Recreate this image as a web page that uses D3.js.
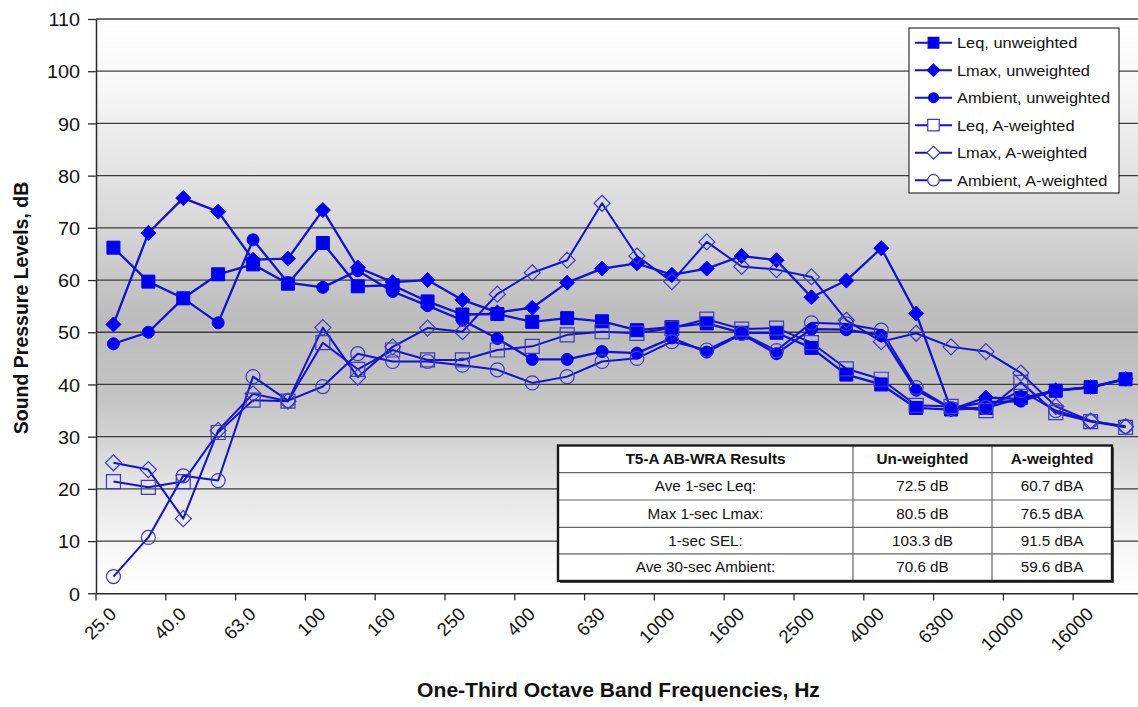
<!DOCTYPE html>
<html>
<head>
<meta charset="utf-8">
<script src="https://cdn.jsdelivr.net/npm/d3@7"></script>
<style>
  body { margin: 0; background: #fff; }
  svg { display: block; font-family: "Liberation Sans", Arial, sans-serif; }
</style>
</head>
<body>
<svg id="chart" width="1138" height="707"></svg>
<script>
// One-third octave band centre frequencies (Hz)
const freqs = ["25.0", "31.5", "40.0", "50.0", "63.0", "80.0", "100", "125", "160", "200",
  "250", "315", "400", "500", "630", "800", "1000", "1250", "1600", "2000",
  "2500", "3150", "4000", "5000", "6300", "8000", "10000", "12500", "16000", "20000"];

// Band levels, dB
const leqUnweighted = [66.2, 59.7, 56.5, 61.1, 63.0, 59.3, 67.1, 58.8, 59.0, 55.9,
  53.4, 53.5, 52.0, 52.7, 52.1, 50.4, 51.0, 51.7, 49.9, 49.9,
  47.0, 41.9, 40.0, 35.5, 35.2, 35.5, 37.4, 38.8, 39.5, 41.0];
const lmaxUnweighted = [51.5, 69.0, 75.7, 73.1, 63.9, 64.1, 73.4, 62.4, 59.6, 60.0,
  56.2, 53.8, 54.7, 59.5, 62.2, 63.2, 61.0, 62.2, 64.6, 63.8,
  56.7, 59.9, 66.1, 53.6, 35.2, 37.5, 37.2, 38.9, 39.5, 41.1];
const ambientUnweighted = [47.8, 50.0, 56.5, 51.8, 67.7, 59.5, 58.6, 61.8, 57.8, 55.1,
  52.3, 48.8, 44.8, 44.8, 46.3, 46.0, 48.9, 46.2, 49.6, 45.9,
  50.6, 50.5, 49.4, 38.9, 35.4, 36.6, 36.8, 38.8, 39.4, 41.0];
const leqAWeighted = [21.4, 20.3, 21.4, 30.8, 37.0, 36.8, 48.0, 42.9, 46.6, 44.7,
  44.7, 46.6, 47.3, 49.5, 50.1, 49.8, 50.8, 52.5, 50.6, 50.8,
  48.0, 43.0, 41.0, 36.0, 35.8, 35.0, 40.4, 34.6, 32.9, 31.8];
const lmaxAWeighted = [25.0, 23.7, 14.3, 31.2, 38.2, 36.8, 50.9, 41.4, 47.2, 50.8,
  50.1, 57.3, 61.4, 63.8, 74.7, 64.6, 59.7, 67.3, 62.6, 62.0,
  60.6, 52.3, 48.2, 49.8, 47.2, 46.3, 42.2, 35.8, 33.0, 31.9];
const ambientAWeighted = [3.2, 10.7, 22.5, 21.6, 41.5, 36.9, 39.6, 45.9, 44.4, 44.4,
  43.7, 42.8, 40.3, 41.5, 44.4, 45.0, 48.2, 46.6, 49.8, 46.5,
  51.8, 51.6, 50.4, 39.4, 35.4, 35.6, 38.8, 35.0, 33.0, 32.0];

const yTicks = [0, 10, 20, 30, 40, 50, 60, 70, 80, 90, 100, 110];
const xTickLabels = ["25.0", "40.0", "63.0", "100", "160", "250", "400", "630",
  "1000", "1600", "2500", "4000", "6300", "10000", "16000"];

const seriesNames = ["Leq, unweighted", "Lmax, unweighted", "Ambient, unweighted",
  "Leq, A-weighted", "Lmax, A-weighted", "Ambient, A-weighted"];
const seriesValues = [leqUnweighted, lmaxUnweighted, ambientUnweighted,
  leqAWeighted, lmaxAWeighted, ambientAWeighted];

const tableHeader = ["T5-A AB-WRA Results", "Un-weighted", "A-weighted"];
const tableRows = [
  ["Ave 1-sec Leq:", "72.5 dB", "60.7 dBA"],
  ["Max 1-sec Lmax:", "80.5 dB", "76.5 dBA"],
  ["1-sec SEL:", "103.3 dB", "91.5 dBA"],
  ["Ave 30-sec Ambient:", "70.6 dB", "59.6 dBA"]
];

// ---- layout and styles ----
const plot = { left: 96, right: 1143, top: 19, bottom: 593.3 };
const SX = 1.065;                 // horizontal widening applied to horizontal text
const LINE = "#1010d8";
const FILL = "#0000f2";
const OPEN = "#3a3ac4";
const markerStyles = [
  { shape: "square", filled: true, size: 13 },
  { shape: "diamond", filled: true, size: 15 },
  { shape: "circle", filled: true, size: 12 },
  { shape: "square", filled: false, size: 14 },
  { shape: "diamond", filled: false, size: 16 },
  { shape: "circle", filled: false, size: 14 }
];

const svg = d3.select("#chart");
const x = d3.scaleBand().domain(freqs).range([plot.left, plot.right]).padding(0);
const cx = d => x(d) + x.bandwidth() / 2;
const y = d3.scaleLinear().domain([0, 110]).range([plot.bottom, plot.top]);

function markerPath(shape, s) {
  const h = s / 2;
  if (shape === "square") return `M${-h},${-h}h${s}v${s}h${-s}Z`;
  if (shape === "diamond") return `M0,${-h}L${h},0L0,${h}L${-h},0Z`;
  return `M${h},0A${h},${h} 0 1,1 ${-h},0A${h},${h} 0 1,1 ${h},0Z`;
}

// plot-area gradient background
const defs = svg.append("defs");
const grad = defs.append("linearGradient").attr("id", "plotBg")
  .attr("x1", 0).attr("y1", 0).attr("x2", 0).attr("y2", 1);
[[0, "#ffffff"], [0.12, "#f7f7f7"], [0.35, "#d8d8d8"], [0.52, "#bcbcbc"],
 [0.66, "#c4c4c4"], [0.8, "#e2e2e2"], [0.93, "#f8f8f8"], [1, "#ffffff"]]
  .forEach(([o, c]) => grad.append("stop").attr("offset", o).attr("stop-color", c));
svg.append("rect")
  .attr("x", plot.left).attr("y", plot.top)
  .attr("width", plot.right - plot.left).attr("height", plot.bottom - plot.top)
  .attr("fill", "url(#plotBg)");

// horizontal gridlines
svg.append("g").selectAll("line").data(yTicks.filter(t => t > 0)).join("line")
  .attr("x1", plot.left).attr("x2", plot.right)
  .attr("y1", d => y(d)).attr("y2", d => y(d))
  .attr("stroke", "#3c3c3c").attr("stroke-width", 1.3);

// y axis
const yAxis = svg.append("g").attr("transform", `translate(${plot.left},0)`)
  .call(d3.axisLeft(y).tickValues(yTicks).tickSize(8).tickSizeOuter(0));
yAxis.select(".domain").attr("stroke", "#2a2a2a").attr("stroke-width", 1.5);
yAxis.selectAll(".tick line").attr("stroke", "#2a2a2a").attr("stroke-width", 1.3);
yAxis.selectAll(".tick text")
  .attr("x", -16 / SX).attr("dy", "0.36em")
  .attr("transform", `scale(${SX},1)`)
  .style("font-size", "18.6px").style("font-family", "'Liberation Sans', Arial, sans-serif")
  .attr("fill", "#111");

// x axis: baseline, tick marks every second band, rotated labels
const xAxis = svg.append("g").attr("transform", `translate(0,${plot.bottom})`)
  .call(d3.axisBottom(x).tickValues([]).tickSizeOuter(0));
xAxis.select(".domain").attr("stroke", "#2a2a2a").attr("stroke-width", 1.5);
const tickBands = freqs.filter((d, i) => i % 2 === 0);
svg.append("g").selectAll("line").data(tickBands).join("line")
  .attr("x1", d => x(d)).attr("x2", d => x(d))
  .attr("y1", plot.bottom).attr("y2", plot.bottom + 7)
  .attr("stroke", "#2a2a2a").attr("stroke-width", 1.3);
svg.append("g").selectAll("text").data(xTickLabels).join("text")
  .attr("transform", d => `translate(${cx(d) + 4},${plot.bottom + 22}) rotate(-45)`)
  .attr("text-anchor", "end")
  .attr("font-size", 18.5).attr("fill", "#111")
  .text(d => d);

// series lines
const line = d3.line().x((d, i) => cx(freqs[i])).y(d => y(d));
seriesValues.forEach((vals, si) => {
  svg.append("path").datum(vals)
    .attr("d", line)
    .attr("fill", "none")
    .attr("stroke", LINE)
    .attr("stroke-width", si < 3 ? 2.3 : 2)
    .attr("stroke-linejoin", "round");
});

// series markers
seriesValues.forEach((vals, si) => {
  const m = markerStyles[si];
  svg.append("g").selectAll("path").data(vals).join("path")
    .attr("transform", (d, i) => `translate(${cx(freqs[i])},${y(d)})`)
    .attr("d", markerPath(m.shape, m.size))
    .attr("fill", m.filled ? FILL : "none")
    .attr("stroke", m.filled ? FILL : OPEN)
    .attr("stroke-width", m.filled ? 1 : 1.2);
});

// legend
const legend = svg.append("g").attr("transform", "translate(909,28)");
legend.append("rect").attr("width", 210).attr("height", 165)
  .attr("fill", "#fff").attr("stroke", "#333").attr("stroke-width", 1.2);
seriesNames.forEach((name, i) => {
  const m = markerStyles[i];
  const row = legend.append("g").attr("transform", `translate(0,${14.7 + i * 27.5})`);
  row.append("line").attr("x1", 6).attr("x2", 43).attr("y1", 0).attr("y2", 0)
    .attr("stroke", LINE).attr("stroke-width", 2);
  row.append("path").attr("transform", "translate(24.5,0)")
    .attr("d", markerPath(m.shape, m.size * 0.82))
    .attr("fill", m.filled ? FILL : "#fff")
    .attr("stroke", m.filled ? FILL : OPEN).attr("stroke-width", 1.2);
  row.append("text").attr("transform", `translate(48,5.5) scale(${SX},1)`)
    .attr("font-size", 15.4).attr("fill", "#111").text(name);
});

// results table
const tbl = { left: 558, right: 1112, top: 445.5, bottom: 581 };
const colEdges = [tbl.left, 853, 992, tbl.right];
const rowEdges = [tbl.top, 472.7, 500, 527.3, 553.8, tbl.bottom];
const tableG = svg.append("g");
tableG.append("rect")
  .attr("x", tbl.left + 2).attr("y", tbl.top + 2)
  .attr("width", tbl.right - tbl.left).attr("height", tbl.bottom - tbl.top)
  .attr("fill", "#555");
tableG.append("rect")
  .attr("x", tbl.left).attr("y", tbl.top)
  .attr("width", tbl.right - tbl.left).attr("height", tbl.bottom - tbl.top)
  .attr("fill", "#fff");
tableG.selectAll("line.h").data(rowEdges.slice(1, -1)).join("line")
  .attr("x1", tbl.left).attr("x2", tbl.right).attr("y1", d => d).attr("y2", d => d)
  .attr("stroke", "#666").attr("stroke-width", 1.2);
tableG.selectAll("line.v").data(colEdges.slice(1, -1)).join("line")
  .attr("x1", d => d).attr("x2", d => d).attr("y1", tbl.top).attr("y2", tbl.bottom)
  .attr("stroke", "#666").attr("stroke-width", 1.2);
tableG.append("rect")
  .attr("x", tbl.left).attr("y", tbl.top)
  .attr("width", tbl.right - tbl.left).attr("height", tbl.bottom - tbl.top)
  .attr("fill", "none").attr("stroke", "#1a1a1a").attr("stroke-width", 2.4);
[tableHeader, ...tableRows].forEach((cells, r) => {
  const cy = (rowEdges[r] + rowEdges[r + 1]) / 2 + 5;
  cells.forEach((txt, c) => {
    const mx = (colEdges[c] + colEdges[c + 1]) / 2;
    tableG.append("text")
      .attr("transform", `translate(${mx},${cy}) scale(${SX},1)`)
      .attr("text-anchor", "middle")
      .attr("font-size", r === 0 ? 14.4 : 14.3)
      .attr("font-weight", r === 0 ? "bold" : "normal")
      .attr("fill", "#111")
      .text(txt);
  });
});

// axis titles
svg.append("text")
  .attr("transform", `translate(618.5,697) scale(${SX},1)`)
  .attr("text-anchor", "middle").attr("font-weight", "bold")
  .attr("font-size", 19.8).attr("fill", "#111")
  .text("One-Third Octave Band Frequencies, Hz");
svg.append("text")
  .attr("transform", "translate(28,308) rotate(-90)")
  .attr("text-anchor", "middle").attr("font-weight", "bold")
  .attr("font-size", 19.5).attr("fill", "#111")
  .text("Sound Pressure Levels, dB");
</script>
</body>
</html>
